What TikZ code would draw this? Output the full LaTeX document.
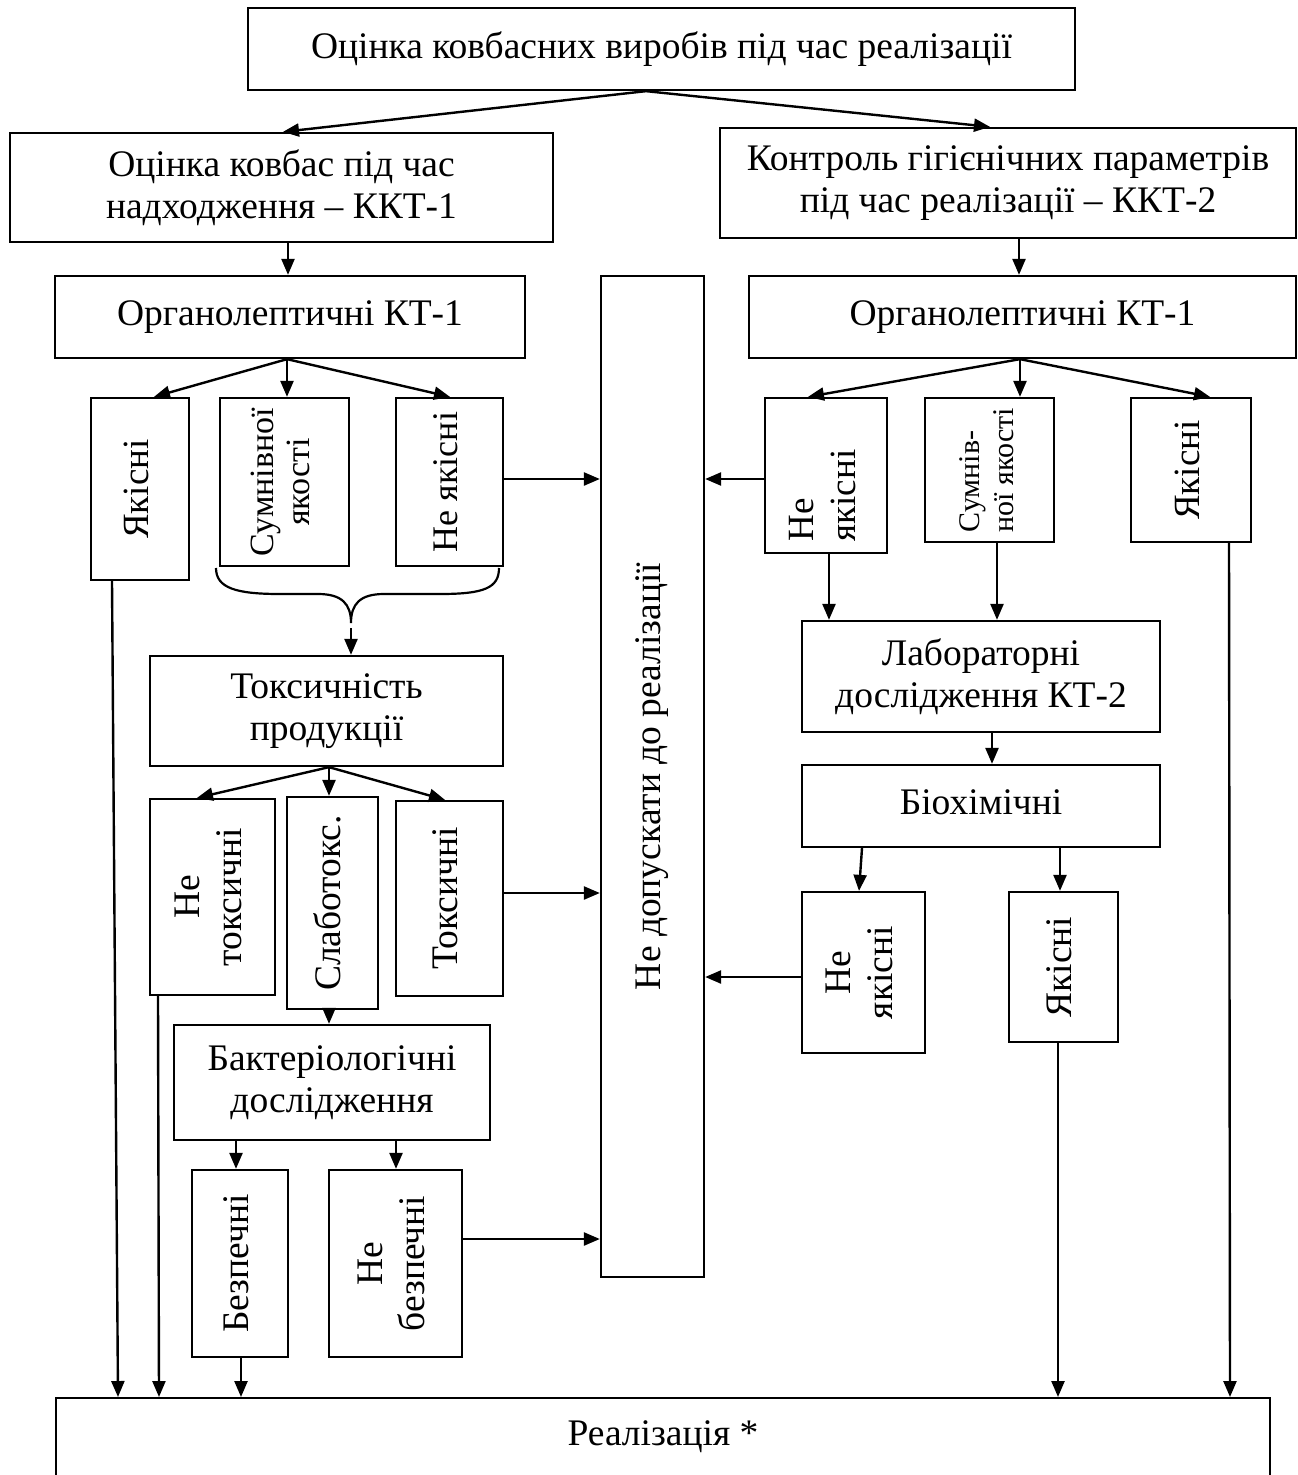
\documentclass[tikz,border=0pt]{standalone}
\usepackage{fontspec}
\setmainfont{Liberation Serif}
\usetikzlibrary{arrows.meta}
\tikzset{
  box/.style={draw, line width=2.3pt, inner sep=0pt, align=center, font=\fontsize{37.5}{42}\selectfont},
  small/.style={font=\fontsize{30}{34}\selectfont},
  big/.style={font=\fontsize{37}{42}\selectfont},
  arr/.style={line width=2.4pt, -{Triangle[length=16pt,width=13pt]}},
}
\newcommand\mkbox[7]{\node[box,#1, minimum width={(#5-#3)*1pt}, minimum height={(#6-#4)*1pt}] (#2) at ({(#3+#5)/2},{(#4+#6)/2}) {#7};}
\newcommand\rot[2][@{}c@{}]{\rotatebox{90}{\begin{tabular}{#1}#2\end{tabular}}}
\begin{document}
\begin{tikzpicture}[x=1pt,y=-1pt]
\useasboundingbox (0,0) rectangle (1298,1475);
% top level
\mkbox{}{top}{248}{8}{1075}{90}{Оцінка ковбасних виробів під час реалізації}
\mkbox{}{kkt1}{10}{133}{553}{242}{Оцінка ковбас під час\\надходження – ККТ-1}
\mkbox{}{kkt2}{720}{128}{1296}{238}{Контроль гігієнічних параметрів\\під час реалізації – ККТ-2}
\mkbox{}{org1}{55}{276}{525}{358}{Органолептичні КТ-1}
\mkbox{}{org2}{749}{276}{1296}{358}{Органолептичні КТ-1}
\mkbox{}{nd}{601}{276}{704}{1277}{\rot{Не допускати до реалізації}}
% left branch
\mkbox{big}{yak1}{91}{398}{189}{580}{\rot{Якісні}}
\mkbox{font=\fontsize{34}{36}\selectfont}{sum1}{220}{398}{349}{566}{\rot{Сумнівної\\якості}}
\mkbox{font=\fontsize{36}{42}\selectfont}{nq1}{396}{398}{503}{566}{\rot{Не якісні}}
\mkbox{}{tox}{150}{656}{503}{766}{Токсичність\\продукції}
\mkbox{}{ntox}{150}{799}{275}{995}{\rot{Не\\токсичні}}
\mkbox{}{slab}{287}{797}{378}{1009}{\rot{Слаботокс.}}
\mkbox{}{toxic}{396}{801}{503}{996}{\rot{Токсичні}}
\mkbox{}{bact}{174}{1025}{490}{1140}{Бактеріологічні\\дослідження}
\mkbox{}{bez}{192}{1170}{288}{1357}{\rot{Безпечні}}
\mkbox{}{nbez}{329}{1170}{462}{1357}{\rot{Не\\безпечні}}
% right branch
\mkbox{big}{nq2}{765}{398}{887}{553}{\rot[@{}l@{\hspace{40pt}}]{Не\\якісні}}
\mkbox{small}{sum2}{925}{398}{1054}{542}{\rot[@{}l@{}]{Сумнів-\\ної якості}}
\mkbox{big}{yak2}{1131}{398}{1251}{542}{\rot{Якісні}}
\mkbox{}{lab}{802}{621}{1160}{732}{Лабораторні\\дослідження КТ-2}
\mkbox{}{bio}{802}{765}{1160}{847}{\raisebox{8pt}{Біохімічні}}
\mkbox{}{nq3}{802}{892}{925}{1053}{\rot{Не\\якісні}}
\mkbox{}{yak3}{1009}{892}{1118}{1042}{\rot{Якісні}}
% bottom
\node[draw, line width=2.3pt, anchor=north, minimum width=1214pt, inner sep=0pt,
      text height=47pt, text depth=150pt, font=\fontsize{37.5}{42}\selectfont] (real) at (663,1397) {Реалізація *};
% connectors top
\draw[arr] (top.south -| 646,0) -- (kkt1.north -| 283,0);
\draw[arr] (top.south -| 646,0) -- (kkt2.north -| 990,0);
\draw[arr] (kkt1.south -| 288,0) -- (org1.north -| 288,0);
\draw[arr] (kkt2.south -| 1019,0) -- (org2.north -| 1019,0);
\draw[arr] (org1.south -| 287,0) -- (yak1.north -| 154,0);
\draw[arr] (org1.south -| 287,0) -- (sum1.north -| 287,0);
\draw[arr] (org1.south -| 287,0) -- (nq1.north -| 450,0);
\draw[arr] (org2.south -| 1020,0) -- (nq2.north -| 808,0);
\draw[arr] (org2.south -| 1020,0) -- (sum2.north -| 1020,0);
\draw[arr] (org2.south -| 1020,0) -- (yak2.north -| 1210,0);
% brace
\coordinate (brtip) at (351,623);
\draw[line width=2.2pt] (216,568) .. controls (216,588) and (236,594) .. (280,594) -- (318,594)
  .. controls (342,594) and (351,604) .. (brtip)
  .. controls (351,604) and (360,594) .. (384,594) -- (440,594)
  .. controls (484,594) and (499,588) .. (499,568);
\draw[arr] (351,628) -- (tox.north -| 351,0);
\draw[arr] (tox.south -| 329,0) -- (ntox.north -| 197,0);
\draw[arr] (tox.south -| 329,0) -- (slab.north -| 329,0);
\draw[arr] (tox.south -| 329,0) -- (toxic.north -| 445,0);
\draw[arr] (slab.south -| 329,0) -- (bact.north -| 329,0);
\draw[arr] (bact.south -| 236,0) -- (bez.north -| 236,0);
\draw[arr] (bact.south -| 396,0) -- (nbez.north -| 396,0);
% into not-admitted
\draw[arr] (nq1.east |- 0,479) -- (nd.west |- 0,479);
\draw[arr] (toxic.east |- 0,893) -- (nd.west |- 0,893);
\draw[arr] (nbez.east |- 0,1239) -- (nd.west |- 0,1239);
\draw[arr] (nq2.west |- 0,479) -- (nd.east |- 0,479);
\draw[arr] (nq3.west |- 0,977) -- (nd.east |- 0,977);
% right lab chain
\draw[arr] (nq2.south -| 829,0) -- (lab.north -| 829,0);
\draw[arr] (sum2.south -| 997,0) -- (lab.north -| 997,0);
\draw[arr] (lab.south -| 992,0) -- (bio.north -| 992,0);
\draw[arr] (bio.south -| 862,0) -- (nq3.north -| 859,0);
\draw[arr] (bio.south -| 1060,0) -- (yak3.north -| 1060,0);
% down to realization
\draw[arr] (yak1.south -| 112,0) -- (real.north -| 118,0);
\draw[arr] (ntox.south -| 158,0) -- (real.north -| 159,0);
\draw[arr] (bez.south -| 241,0) -- (real.north -| 241,0);
\draw[arr] (yak3.south -| 1058,0) -- (real.north -| 1058,0);
\draw[arr] (yak2.south -| 1229,0) -- (real.north -| 1230,0);
\end{tikzpicture}
\end{document}
